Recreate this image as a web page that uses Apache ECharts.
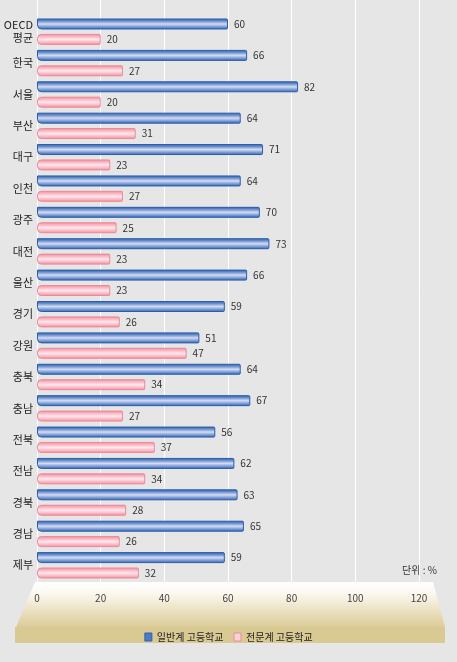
<!DOCTYPE html>
<html><head><meta charset="utf-8">
<script src="https://cdn.jsdelivr.net/npm/echarts@6/dist/echarts.min.js"></script>
<style>html,body{margin:0;padding:0;background:#e6e6e6;}#c{width:457px;height:662px;}</style>
</head><body><div id="c"></div>
<script>
const categories = ['OECD\n평균','한국','서울','부산','대구','인천','광주','대전','울산','경기','강원','충북','충남','전북','전남','경북','경남','제부'];
const general = [60,66,82,64,71,64,70,73,66,59,51,64,67,56,62,63,65,59];
const vocational = [20,27,20,31,23,27,25,23,23,26,47,34,27,37,34,28,26,32];
const xTicks = [0,20,40,60,80,100,120];
const seriesNames = ['일반계 고등학교','전문계 고등학교'];

const font = '"Noto Sans CJK KR", "Noto Sans", sans-serif';
const chart = echarts.init(document.getElementById('c'));
const blueGrad = new echarts.graphic.LinearGradient(0,0,0,1,[
  {offset:0,color:'#2e63b0'},{offset:0.2,color:'#5f86c8'},{offset:0.5,color:'#d4dcf3'},{offset:0.8,color:'#6d91cf'},{offset:1,color:'#2e63b0'}]);
const pinkGrad = new echarts.graphic.LinearGradient(0,0,0,1,[
  {offset:0,color:'#f08a9b'},{offset:0.25,color:'#f9b8c4'},{offset:0.5,color:'#ffe9ed'},{offset:0.75,color:'#f9bcc7'},{offset:1,color:'#f08a9b'}]);

chart.setOption({
  backgroundColor:'#e6e6e6',
  animation:false,
  grid:[
    {left:37,right:38,top:16,bottom:81,containLabel:false},
    {left:37,right:38,top:0,bottom:79,containLabel:false}
  ],
  xAxis:[
    {gridIndex:0,type:'value',min:0,max:120,interval:20,position:'bottom',
     axisLine:{show:false},axisTick:{show:false},splitLine:{show:false},
     axisLabel:{color:'#444',fontSize:10,fontFamily:font,margin:12,
       formatter:v=>xTicks.indexOf(v)>=0?String(v):''}},
    {gridIndex:1,type:'value',min:0,max:120,interval:20,
     axisLine:{show:false},axisTick:{show:false},axisLabel:{show:false},
     splitLine:{show:true,lineStyle:{color:'#ffffff',width:1}}}
  ],
  yAxis:[
    {gridIndex:0,type:'category',data:categories,inverse:true,
     axisLine:{show:false},axisTick:{show:false},splitLine:{show:false},
     axisLabel:{color:'#222',fontSize:11,fontFamily:font,margin:4,lineHeight:13,align:'right'}},
    {gridIndex:1,type:'category',data:[''],show:false}
  ],
  legend:{bottom:15,left:'center',itemWidth:7,itemHeight:8,itemGap:10,
    textStyle:{color:'#222',fontSize:10,fontFamily:font},
    data:[{name:seriesNames[0],icon:'rect',itemStyle:{color:'#4a7cc4',borderColor:'#2d62ad',borderWidth:1}},
          {name:seriesNames[1],icon:'rect',itemStyle:{color:'#fbd0d8',borderColor:'#ef8b9b',borderWidth:1}}]},
  graphic:[
    {type:'polygon',z:-1,shape:{points:[[35,582],[433,582],[445,627],[16,627]]},
     style:{fill:new echarts.graphic.LinearGradient(0,0,0,1,[{offset:0,color:'#ffffff'},{offset:0.25,color:'#fbf8ef'},{offset:1,color:'#dccc98'}])}},
    {type:'rect',z:-1,shape:{x:15,y:627,width:430,height:16},style:{fill:'#d9c993'}},
    {type:'text',left:402,top:565,style:{text:'단위 : %',fill:'#333',font:'10px '+font}}
  ],
  series:[
    {name:seriesNames[0],type:'bar',xAxisIndex:0,yAxisIndex:0,data:general,barWidth:11,barGap:'40%',
     itemStyle:{color:blueGrad,borderColor:'#2a5ea9',borderWidth:1,borderRadius:[0,1,1,4]},
     label:{show:true,position:'right',distance:6,color:'#333',fontSize:10,fontFamily:font}},
    {name:seriesNames[1],type:'bar',xAxisIndex:0,yAxisIndex:0,data:vocational,barWidth:11,barGap:'40%',
     itemStyle:{color:pinkGrad,borderColor:'#ee8798',borderWidth:1,borderRadius:[4,1,1,4]},
     label:{show:true,position:'right',distance:6,color:'#333',fontSize:10,fontFamily:font}}
  ]
});
</script></body></html>
